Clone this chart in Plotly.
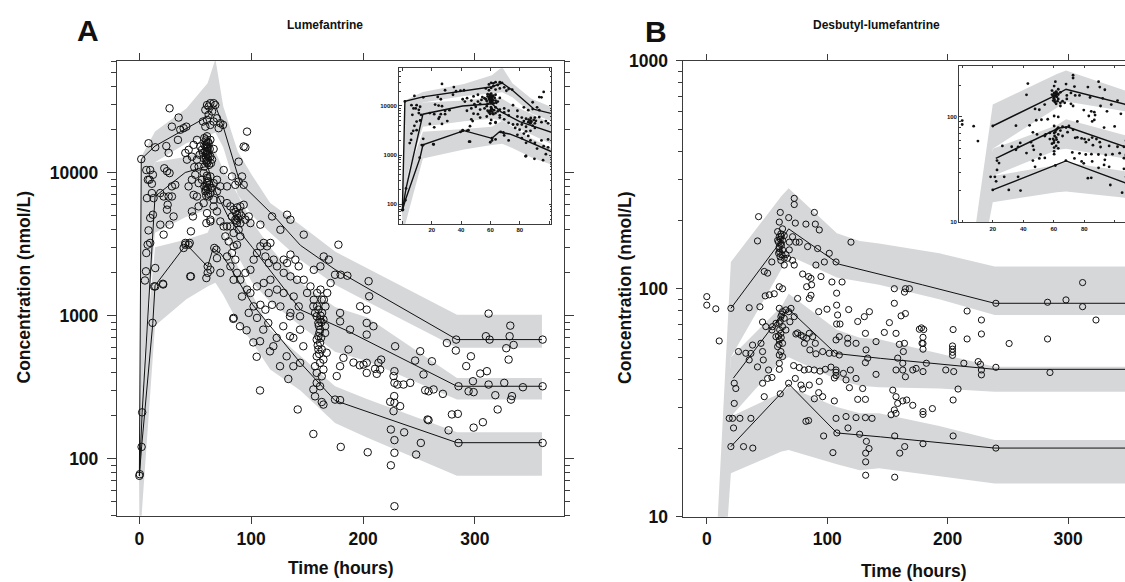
import plotly.graph_objects as go

W, H = 1125, 582

# ---------------- Panel A: Lumefantrine ----------------
A_OBS = [
    (0, 76), (0.4, 78), (2, 121), (2.5, 211), (11.8, 890), (13.2, 1600), (21.3, 1650), (1.7, 12400),
    (27.0, 28100), (35.1, 24200), (29.1, 20900), (36.6, 19900), (39.6, 20400), (42.0, 20900), (34.5, 16900),
    (8.2, 16000), (14.2, 15000), (24.1, 15300), (26.2, 13700), (9.7, 10400), (12.1, 9640), (9.1, 8900),
    (11.2, 8340), (22.3, 10700), (24.7, 10200), (27.0, 9900), (32.1, 8200), (29.1, 8000), (6.8, 6620),
    (12.7, 6620), (11.2, 7180), (18.7, 7180), (21.7, 6800), (26.2, 6800), (29.1, 6800), (25.3, 5950),
    (24.7, 5500), (12.1, 5070), (9.7, 4810), (30.6, 4930), (18.7, 4320), (21.7, 3680), (27.0, 4320),
    (8.2, 3940), (9.7, 3220), (7.4, 3130), (6.2, 2740), (14.2, 2150), (5.9, 2040), (5.0, 1760), (14.2, 1600),
    (21.1, 1670), (39.6, 2970), (44.1, 3130), (46.1, 3880), (45.5, 1880), (41.1, 3130), (6.2, 10400), (7.6, 8900),
    (60.5, 29600), (62.0, 28900), (63.5, 30500), (66.4, 30500), (67.9, 29600), (59.0, 27400), (65.0, 26700),
    (62.0, 25300), (60.5, 23300), (66.4, 22700), (63.5, 21500), (69.4, 23900), (72.4, 22100), (70.9, 20400),
    (74.8, 21500), (59.0, 20900), (56.9, 22700),
    (58.1, 17400), (59.9, 16500), (62.0, 16000), (58.1, 15600), (60.5, 15000), (62.9, 14600), (59.0, 14000),
    (61.1, 13300), (63.5, 12900), (57.5, 12600), (59.9, 11900), (65.0, 12300), (62.3, 11300), (58.1, 11000),
    (66.4, 14600), (56.0, 14400), (60.5, 17900), (63.5, 16900), (56.9, 13700), (61.1, 12300), (64.0, 11600),
    (51.5, 16900), (48.5, 15600), (54.5, 15200), (53.9, 13300), (47.0, 12900), (44.1, 14400), (41.1, 13700),
    (51.5, 12300), (53.0, 11000), (42.6, 12300), (49.1, 10900),
    (60.0, 13500), (61.0, 14200), (60.2, 15800), (59.5, 12800), (61.5, 16300), (60.8, 11700), (59.2, 15200),
    (61.8, 13000), (60.3, 12100), (59.6, 17000), (61.2, 14900), (60.6, 13900),
    (57.5, 9900), (60.5, 9150), (63.5, 9380), (66.4, 8430), (69.4, 8900), (72.4, 8000), (75.4, 10400),
    (69.4, 7380), (63.5, 7180), (59.0, 7380), (62.0, 6800), (66.4, 6450), (72.4, 6450), (78.4, 8000),
    (82.8, 9380), (85.8, 8200), (88.8, 8650), (91.8, 9380), (93.3, 8200), (58.1, 8000), (60.5, 8430),
    (65.0, 7780), (56.0, 8900), (53.0, 8430), (50.0, 9640), (47.0, 8900), (44.0, 8000),
    (60.0, 8000), (61.0, 8700), (59.5, 7600), (61.5, 7100), (60.4, 9500), (62.5, 8200), (59.8, 6900), (61.2, 7700),
    (78.4, 6110), (81.4, 5800), (84.3, 5500), (87.3, 5070), (90.3, 5800), (93.3, 5950), (94.8, 4680),
    (90.3, 4430), (85.8, 4680), (82.8, 4930), (97.8, 4930), (99.3, 4430), (87.3, 4430), (81.4, 4200),
    (88.8, 3980), (84.3, 3780), (86.0, 5300), (88.0, 4800), (89.5, 5200), (86.8, 4600), (91.0, 5000), (87.5, 5700),
    (48.5, 6980), (51.5, 6800), (53.0, 5800), (47.0, 5350), (47.9, 4930), (60.5, 5200), (63.5, 4680),
    (69.4, 5350), (72.4, 4550), (75.4, 4200), (78.4, 4200), (57.5, 6110), (66.4, 5800), (59.9, 4430), (63.5, 4550),
    (41.1, 3220), (45.0, 3220), (67.0, 2970), (68.8, 2890), (61.1, 2210), (61.1, 1990), (63.5, 2090),
    (59.9, 1830), (72.4, 1990), (69.4, 2520), (46.1, 1880),
    (96.3, 19300), (93.3, 15200), (94.8, 15000), (88.8, 11900), (108.2, 4320), (118.7, 4930), (132.1, 5070),
    (135.1, 4680), (126.1, 3980), (147.0, 3680), (164.9, 2590), (169.4, 2460), (161.9, 2210), (156.0, 2090),
    (76.9, 3580), (79.9, 3300), (84.3, 3050), (87.3, 3130), (90.3, 3580), (82.8, 2740), (85.8, 2460),
    (78.4, 2590), (81.4, 2210), (87.3, 1990), (90.3, 1780), (84.3, 1780), (94.8, 1990), (99.3, 2090),
    (102.2, 2460), (105.2, 2740), (108.2, 3050), (111.2, 3220), (114.2, 3050), (117.2, 3220), (112.7, 2590),
    (115.7, 2330), (120.1, 2460), (123.1, 2210), (129.1, 2460), (132.1, 2330), (135.1, 2670), (139.5, 2460),
    (142.5, 2210), (129.1, 1990), (135.1, 1880), (141.0, 1780), (147.0, 1780), (153.0, 1600), (159.0, 1440),
    (162.0, 1520), (165.0, 1290), (159.0, 1160), (163.4, 1045), (150.0, 1440), (138.0, 1360), (142.5, 1160),
    (129.1, 1440), (123.1, 1520), (117.2, 1780), (111.2, 1690), (105.2, 1600), (99.3, 1440), (102.2, 1160),
    (108.2, 1190), (112.7, 1100), (118.7, 1190), (126.1, 1160), (135.1, 1045), (84.3, 964), (105.2, 964),
    (96.3, 1520), (91.8, 1360), (97.8, 1045), (115.7, 1440), (156.0, 1290), (166.4, 1160), (168.0, 1440), (171.0, 1690),
    (84.0, 949), (95.9, 790), (104.9, 516), (107.9, 300), (107.9, 662), (116.8, 563), (115.3, 889), (133.2, 361),
    (141.6, 221), (155.6, 149), (157.1, 273), (158.6, 339), (155.6, 305), (163.1, 249), (164.6, 239),
    (137.7, 443), (143.7, 468), (128.7, 843), (134.7, 718), (143.7, 798), (146.6, 611), (137.7, 699),
    (122.8, 699), (131.7, 520), (134.7, 989), (143.7, 989), (119.8, 611), (125.8, 443), (110.8, 798),
    (101.9, 650), (90.0, 843),
    (158.6, 989), (160.1, 889), (161.6, 798), (160.1, 718), (161.6, 646), (163.1, 580), (158.6, 520),
    (161.6, 468), (164.6, 420), (163.1, 377), (155.6, 1162), (157.1, 1044), (164.6, 938), (166.1, 843),
    (166.1, 757), (160.1, 580), (157.1, 443), (158.6, 398), (164.6, 493), (167.5, 550), (161.6, 938),
    (160.1, 1101), (163.1, 1294), (158.6, 681), (161.6, 321), (162.0, 1000), (160.5, 850), (162.5, 700),
    (161.0, 760), (159.5, 620), (162.8, 900), (160.8, 540),
    (180.1, 121), (204.2, 111), (175.0, 259), (179.5, 257), (176.5, 378), (179.5, 443), (182.5, 507),
    (187.0, 580), (200.4, 455), (203.3, 398), (203.3, 468), (188.4, 798), (179.5, 912), (179.5, 1044),
    (197.4, 1162), (203.3, 1101), (203.3, 889), (203.3, 737), (209.3, 843), (178.0, 3130), (175.0, 1930),
    (180.0, 1930), (186.0, 1900), (205.0, 1740), (205.5, 1365), (191.5, 470), (197.0, 450),
    (213.8, 468), (216.2, 493), (215.3, 420), (212.3, 392), (210.8, 425), (228.7, 611), (228.1, 409),
    (227.3, 378), (230.8, 330), (228.1, 339), (236.2, 330), (242.2, 339), (227.9, 274), (228.1, 246),
    (224.3, 250), (233.2, 233), (227.3, 215), (224.9, 160), (228.1, 135), (236.8, 153), (228.1, 110),
    (224.9, 90), (247.5, 107), (251.7, 129), (228.1, 46.6), (251.1, 564), (246.6, 485), (254.1, 388),
    (261.6, 480), (258.6, 296), (257.7, 188), (258.6, 186), (276.5, 158), (275.0, 644), (283.0, 570),
    (283.3, 680), (279.5, 204), (284.8, 206), (263.1, 305), (255.6, 301), (271.4, 284), (292.3, 444),
    (296.5, 520), (298.9, 292), (294.4, 296), (298.9, 165), (307.2, 180), (320.4, 221), (304.8, 394),
    (310.8, 409), (298.3, 348), (312.3, 330), (318.3, 278), (326.3, 339), (333.2, 274), (332.3, 259),
    (343.0, 316), (312.3, 1033), (309.9, 718), (313.2, 680), (331.7, 851), (331.1, 718), (334.7, 624),
    (328.1, 592), (330.2, 493), (360.6, 680), (360.6, 321), (360.6, 129), (285.4, 129), (285.4, 321),
]

# observed percentile lines (95th, 50th, 5th)
A_UP_T = [0, 1.7, 14, 40, 61, 68, 75, 90, 120, 144, 175, 284, 360]
A_UP_V = [76, 12400, 15300, 20000, 24600, 29300, 20900, 8500, 5000, 3100, 2100, 680, 680]
A_MID_T = [0, 2.5, 14, 41, 61, 67, 80, 101, 144, 187, 284, 360]
A_MID_V = [76, 211, 6800, 10000, 11100, 7700, 4800, 3000, 1100, 776, 321, 321]
A_LOW_T = [0, 2, 12, 14, 42, 61, 66, 73, 80, 101, 144, 175, 284, 360]
A_LOW_V = [76, 121, 880, 1620, 3150, 2200, 2950, 2700, 2250, 1200, 468, 255, 129.5, 129.5]

# simulated confidence bands
A_BAND_T = [0, 2, 14, 42, 61, 68, 75, 88, 101, 117, 144, 175, 204, 284, 360]
A_UP_LO = [40, 4000, 11800, 16000, 18000, 19000, 15000, 7000, 5000, 3800, 2450, 1640, 1250, 596, 596]
A_UP_HI = [110, 13000, 19300, 28000, 42000, 62000, 29000, 14000, 9500, 6120, 4300, 2800, 2150, 1016, 1016]
A_MID_LO = [40, 300, 3800, 4900, 5500, 5000, 4000, 2600, 1700, 1250, 850, 560, 480, 259, 259]
A_MID_HI = [110, 4500, 11800, 12900, 15000, 14000, 10500, 7000, 4500, 3000, 1700, 1150, 970, 367, 367]
A_LOW_LO = [40, 40, 850, 1300, 1600, 1700, 1400, 900, 650, 420, 300, 178, 140, 76, 76]
A_LOW_HI = [110, 300, 3000, 3400, 3800, 5000, 3800, 2200, 1400, 800, 520, 321, 260, 153, 153]

# ---------------- Panel B: Desbutyl-lumefantrine ----------------
B_OBS = [
    (72.6, 249), (72.6, 234), (61.0, 216), (89.3, 216), (43.0, 207), (68.0, 205), (60.2, 196), (73.5, 194),
    (82.3, 192), (90.1, 192), (93.4, 181), (42.1, 162), (119.7, 160), (62.9, 183),
    (58.8, 178), (61.5, 174), (64.3, 171), (60.2, 169), (58.8, 163), (62.9, 163), (61.5, 158), (60.2, 153),
    (62.9, 148), (59.6, 143), (62.4, 141), (64.3, 136), (61.5, 133), (65.7, 141), (68.5, 160), (71.2, 169),
    (74.0, 160), (76.8, 160), (68.5, 148), (67.1, 136), (71.2, 133),
    (60.0, 150), (61.0, 165), (62.0, 155), (60.5, 145), (59.5, 160), (61.8, 170), (60.8, 138),
    (83.7, 153), (92.0, 150), (101.7, 143), (107.3, 131), (54.0, 131), (47.7, 119), (50.5, 117), (72.6, 127),
    (64.3, 127), (90.6, 127), (97.6, 131), (84.5, 113), (86.5, 111), (94.8, 113), (103.9, 107), (112.3, 107),
    (79.6, 116), (82.9, 102), (87.0, 104), (155.7, 100), (164.9, 100), (168.2, 100), (164.1, 96.6),
    (155.7, 86.3), (60.2, 102), (62.9, 100), (56.0, 95), (51.9, 94), (48.5, 93), (0, 92.3), (0, 84.7),
    (7.5, 81.6), (20.0, 82), (35.2, 82.5), (44.1, 83.3), (75.4, 90.6), (85.1, 90.6), (86.5, 93.6),
    (92.9, 79.3), (99.8, 81.3), (107.8, 95.6), (107.8, 84.7), (107.8, 70), (110.6, 70), (117.8, 81),
    (108.6, 76.7), (125.3, 71.8), (130.8, 75.4), (135.0, 79.3), (131.7, 63.7), (123.9, 57.6), (117.0, 57.6),
    (140.5, 58.6), (147.4, 64.3), (151.6, 71), (157.1, 63.7), (161.3, 76), (164.9, 77.8), (159.9, 57),
    (164.1, 57.6), (176.5, 66.4), (178.7, 57.6), (10.3, 59),
    (60.2, 82), (62.9, 79.3), (65.7, 80.7), (61.5, 75.4), (64.3, 74.2), (60.2, 70.5), (62.9, 68.2),
    (65.7, 65.9), (61.5, 63.7), (60.2, 59.6), (62.9, 57.6), (58.8, 55.7), (61.5, 53), (60.2, 51.2),
    (62.9, 50.4), (57.4, 70.5), (54.6, 68.2), (68.0, 79.3), (69.9, 82), (72.6, 75.4), (69.0, 71.6),
    (74.0, 63.3), (75.4, 64), (78.2, 62.5), (80.1, 61.6), (81.0, 57.6), (82.9, 60.6), (85.1, 63.7),
    (87.9, 61.6), (90.1, 57.6), (85.6, 53.9), (90.6, 51.8), (96.2, 53), (101.7, 52.1), (105.9, 52.1),
    (110.0, 51.2), (117.0, 60.6), (132.2, 53.9), (110.0, 61.6), (107.3, 59.6), (46.3, 71.4), (49.0, 68.2),
    (54.1, 65.9), (57.4, 61.6), (38.0, 56.6), (45.0, 57.6), (36.6, 52), (46.3, 53), (26.3, 53), (32.4, 52.1),
    (35.2, 48.7), (46.9, 48.7), (42.1, 45.4), (51.3, 44), (54.1, 40.8), (60.2, 44.3), (60.2, 47.1),
    (72.1, 46), (76.8, 45.1), (80.9, 44), (84.6, 44.3), (89.2, 44), (94.0, 43.5), (98.4, 44.3),
    (103.1, 45.3), (107.3, 44), (113.4, 42.5), (119.2, 44), (123.9, 40.4), (131.7, 47.4), (133.6, 49.6),
    (140.5, 42.1), (131.7, 32.7), (125.3, 32.7), (129.4, 36.5), (105.9, 40.6), (107.3, 41.6), (107.3, 43),
    (115.6, 39.8), (93.4, 39.2), (92.9, 35), (96.2, 33.6), (89.3, 32.9), (85.1, 37.8), (78.2, 37.8),
    (79.6, 36.3), (73.5, 40.4), (50.5, 40.4), (46.3, 38.5), (47.7, 33.6), (61.0, 34.6), (67.9, 38.5),
    (22.8, 38.5), (24.1, 36.5), (22.8, 31.4), (21.4, 27), (27.5, 27), (36.6, 27), (18.6, 27), (82.3, 26.2),
    (84.5, 26.4), (107.3, 27), (115.6, 27.5), (123.9, 27.2), (131.7, 27.2), (137.2, 27), (155.7, 29.4),
    (157.1, 28.4), (162.7, 32.2), (166.0, 32.5), (171.0, 30.8), (158.5, 31.4), (153.0, 28), (154.4, 35.9),
    (157.1, 33.6), (105.9, 32.2), (118.4, 36.8), (163.2, 53), (162.7, 47.1), (162.7, 44), (164.9, 41.1),
    (157.1, 44), (158.5, 49.6), (171.0, 44), (173.8, 44.7),
    (61.0, 72), (60.5, 66), (61.8, 61), (60.0, 57), (62.2, 77), (59.5, 62),
    (20.0, 20.3), (22.2, 24.5), (30.5, 20.3), (38.2, 20), (97.0, 22.6), (104.7, 19.1), (117.2, 24.5),
    (126.9, 23), (132.5, 21.4), (131.9, 19), (131.9, 17.4), (131.9, 15.2), (134.7, 19.9), (108.0, 23.3),
    (156.0, 14.9), (160.2, 19), (164.3, 20.3), (156.0, 22.6), (179.5, 20.9), (178.2, 67.3), (180.1, 66.2),
    (179.5, 61.2), (179.5, 57.5), (179.5, 54.3), (179.5, 43.3), (182.3, 47.1), (179.5, 28.9), (179.5, 28.1),
    (187.3, 29.8), (198.4, 44), (205.0, 43.3), (204.5, 66.2), (204.0, 56.1), (204.0, 54.3), (204.0, 52.6),
    (204.0, 51), (208.6, 36.3), (204.5, 32.5), (204.5, 22.6), (216.1, 79.8), (216.1, 60.2), (213.4, 47.1),
    (225.3, 47.9), (228.0, 72.9), (228.0, 63.3), (227.2, 46.6), (228.0, 44), (228.0, 41.9), (240.0, 45.2),
    (240.0, 86.3), (240.0, 20), (251.0, 57.5), (282.9, 87.2), (282.9, 60.2), (284.9, 42.9), (298.2, 89.3),
    (312.0, 106.4), (312.0, 83.4), (323.1, 72.9),
]

B_UP_T = [20, 59, 68, 110, 179, 239, 350]
B_UP_V = [82, 155, 183, 128, 104, 86.3, 86.3]
B_MID_T = [22, 63, 68.7, 107, 144, 239, 350]
B_MID_V = [40.5, 78, 80.7, 52, 49.5, 44.3, 44.3]
B_LOW_T = [20, 60.4, 68, 108, 144, 239, 350]
B_LOW_V = [20.3, 34.2, 38.2, 23.3, 22.4, 20, 20]

B_BAND_T = [5, 20, 62, 68, 108, 127, 143, 193, 239, 350]
B_UP_LO = [1.1, 50, 122, 140, 112, 108, 104, 90, 76.7, 76.7]
B_UP_HI = [3.8, 131, 255, 276, 175, 162, 158, 143, 125, 125]
B_MID_LO = [1.1, 27.5, 48.6, 50, 40, 37.5, 37, 36.5, 35.3, 35.3]
B_MID_HI = [3.8, 50, 83.5, 95, 66, 61, 60, 52, 45.5, 45.5]
B_LOW_LO = [1.1, 15.5, 19.3, 19.6, 17, 16, 16.3, 15, 14, 14]
B_LOW_HI = [3.8, 27.5, 35, 37.1, 30.3, 28.4, 28.4, 25, 21.7, 21.7]

X_TICKS = [0, 100, 200, 300]
INSET_X_TICKS = [0, 20, 40, 60, 80, 100]
INSET_X_TEXT = ["", "20", "40", "60", "80", ""]

# ---------------- styles ----------------
GRAY = "#d6d7d9"
INK = "#111111"
AXC = "#3c3c3c"
FONT = "Liberation Sans, Arial, sans-serif"

fig = go.Figure()


def add_panel(xa, ya, obs, lines, band_t, bands, msize, inset=False):
    for lo, hi in bands:
        fig.add_trace(go.Scatter(
            x=band_t + band_t[::-1], y=lo + hi[::-1], fill="toself", fillcolor=GRAY,
            line=dict(width=0), mode="lines", hoverinfo="skip", xaxis=xa, yaxis=ya))
    for t, v in lines:
        fig.add_trace(go.Scatter(x=t, y=v, mode="lines",
                                 line=dict(color=INK, width=1.4 if inset else 1.0),
                                 xaxis=xa, yaxis=ya, hoverinfo="skip"))
    ts = [p[0] for p in obs]
    vs = [p[1] for p in obs]
    if inset:
        marker = dict(symbol="circle", size=msize, color=INK, line=dict(width=0))
    else:
        marker = dict(symbol="circle-open", size=msize, color=INK, line=dict(width=1.0, color=INK))
    fig.add_trace(go.Scatter(x=ts, y=vs, mode="markers", marker=marker, xaxis=xa, yaxis=ya,
                             hoverinfo="skip"))


a_lines = [(A_UP_T, A_UP_V), (A_MID_T, A_MID_V), (A_LOW_T, A_LOW_V)]
a_bands = [(A_UP_LO, A_UP_HI), (A_MID_LO, A_MID_HI), (A_LOW_LO, A_LOW_HI)]
b_lines = [(B_UP_T, B_UP_V), (B_MID_T, B_MID_V), (B_LOW_T, B_LOW_V)]
b_bands = [(B_UP_LO, B_UP_HI), (B_MID_LO, B_MID_HI), (B_LOW_LO, B_LOW_HI)]

add_panel("x", "y", A_OBS, a_lines, A_BAND_T, a_bands, 7.5)
add_panel("x2", "y2", B_OBS, b_lines, B_BAND_T, b_bands, 6.2)
add_panel("x3", "y3", A_OBS, a_lines, A_BAND_T, a_bands, 2.8, inset=True)
add_panel("x4", "y4", B_OBS, b_lines, B_BAND_T, b_bands, 2.8, inset=True)


def dom_x(a, b):
    return [a / W, min(b / W, 1.0)]


def dom_y(top, bottom):
    return [1 - bottom / H, 1 - top / H]


tickfont = dict(family=FONT, size=17.5, color=INK, weight="bold")
small_font = dict(family=FONT, size=6, color=INK, weight="bold")


def minor_vals(lo_dec, hi_dec):
    vals = []
    for d in range(lo_dec, hi_dec + 1):
        for m in range(2, 10):
            vals.append(m * 10 ** d)
    return vals


common = dict(showgrid=False, zeroline=False, showline=True, linecolor=AXC, linewidth=1.3,
              tickcolor=AXC, tickwidth=1.2, automargin=False)

fig.update_layout(
    width=W, height=H, autosize=False, margin=dict(l=0, r=0, t=0, b=0, pad=0, autoexpand=False),
    paper_bgcolor="white", plot_bgcolor="white", showlegend=False, hovermode=False,
    xaxis=dict(domain=dom_x(117, 564.3), range=[-20, 380], anchor="y", tickvals=X_TICKS,
               ticks="outside", ticklen=7, mirror="allticks", tickfont=tickfont, **common),
    yaxis=dict(domain=dom_y(61, 516), type="log", range=[1.6, 4.779], anchor="x",
               tickvals=[100, 1000, 10000], ticktext=["100", "1000", "10000"],
               ticks="outside", ticklen=9, mirror="allticks", tickfont=tickfont, ticklabelstandoff=5,
               minor=dict(tickvals=minor_vals(1, 4), ticks="outside", ticklen=5, tickcolor=AXC, tickwidth=1),
               **common),
    xaxis2=dict(domain=dom_x(682.7, 1125), range=[-20, 347.2], anchor="y2", tickvals=X_TICKS,
                ticks="outside", ticklen=6, mirror="allticks", tickfont=tickfont, **common),
    yaxis2=dict(domain=dom_y(60.7, 516.7), type="log", range=[1, 3], anchor="x2",
                tickvals=[10, 100, 1000], ticktext=["10", "100", "1000"],
                ticks="outside", ticklen=6, mirror=False, tickfont=tickfont, ticklabelstandoff=4,
                minor=dict(tickvals=minor_vals(1, 2), ticks="outside", ticklen=3.5, tickcolor=AXC, tickwidth=1),
                **common),
    xaxis3=dict(domain=dom_x(399.3, 551.3), range=[-2.1, 101.5], anchor="y3",
                tickvals=INSET_X_TICKS, ticktext=INSET_X_TEXT, ticks="inside", ticklen=2.5,
                mirror="allticks", tickfont=small_font, **common),
    yaxis3=dict(domain=dom_y(68.3, 224), type="log", range=[1.6, 4.766], anchor="x3",
                tickvals=[100, 1000, 10000], ticktext=["100", "1000", "10000"],
                ticks="inside", ticklen=2.5, mirror="allticks", tickfont=small_font,
                minor=dict(tickvals=minor_vals(1, 4), ticks="inside", ticklen=1.5, tickcolor=AXC, tickwidth=0.8),
                **common),
    xaxis4=dict(domain=dom_x(959.3, 1125), range=[-1.9, 106.6], anchor="y4",
                tickvals=INSET_X_TICKS, ticktext=INSET_X_TEXT, ticks="inside", ticklen=2.5,
                mirror="allticks", tickfont=small_font, **common),
    yaxis4=dict(domain=dom_y(65.7, 222.3), type="log", range=[1, 2.486], anchor="x4",
                tickvals=[10, 100], ticktext=["10", "100"],
                ticks="inside", ticklen=2.5, mirror=False, tickfont=small_font,
                minor=dict(tickvals=minor_vals(1, 2), ticks="inside", ticklen=1.5, tickcolor=AXC, tickwidth=0.8),
                **common),
)


def ann(text, x, y, size, angle=0):
    fig.add_annotation(text=text, x=x / W, y=1 - y / H, xref="paper", yref="paper",
                       showarrow=False, textangle=angle, xanchor="center", yanchor="middle",
                       font=dict(family=FONT, size=size, color=INK, weight="bold"))


ann("A", 88, 30, 30)
ann("Lumefantrine", 325, 25, 12)
ann("B", 656, 31, 30)
ann("Desbutyl-lumefantrine", 876, 25, 12)
ann("Concentration (nmol/L)", 23.5, 288, 17.5, -90)
ann("Concentration (nmol/L)", 625, 288, 17.5, -90)
ann("Time (hours)", 341, 567.5, 17.5)
ann("Time (hours)", 914, 571, 17.5)

PAGE_FIX = (
    "var gd=document.getElementById('{plot_id}');"
    "document.documentElement.style.cssText='margin:0;padding:0;overflow:hidden;height:582px;width:1125px;';"
    "document.body.style.cssText='margin:0;padding:0;overflow:hidden;height:582px;width:1125px;position:relative;';"
    "if(gd){gd.style.position='absolute';gd.style.left='0px';gd.style.top='0px';"
    "if(gd.parentElement&&gd.parentElement!==document.body){"
    "gd.parentElement.style.cssText='margin:0;padding:0;height:0;';}}"
)

fig.write_html("out.html", post_script=PAGE_FIX, config={"displayModeBar": False, "responsive": False})
